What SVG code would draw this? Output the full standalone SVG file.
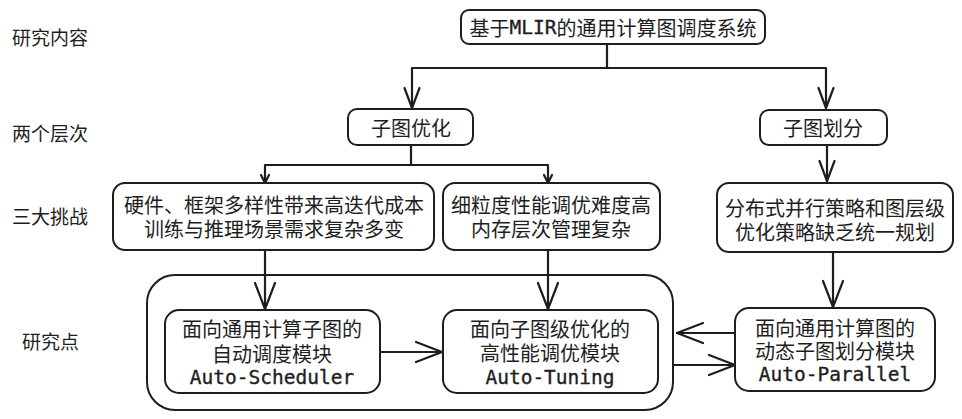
<svg xmlns="http://www.w3.org/2000/svg" width="962" height="419" viewBox="0 0 962 419">
<style>
.bg{fill:#ffffff}
.box{fill:#ffffff;stroke:#1e1e1e;stroke-width:2}
.frame{fill:none;stroke:#1e1e1e;stroke-width:2}
.t{font-family:"Noto Sans CJK SC","Noto Sans",sans-serif;font-size:20px;fill:#1e1e1e;text-anchor:middle;dominant-baseline:central}
.lbl{font-family:"Noto Sans CJK SC","Noto Sans",sans-serif;font-size:19px;fill:#1e1e1e;dominant-baseline:central}
.m{font-family:"DejaVu Sans Mono","Liberation Mono",monospace;font-size:19.5px;stroke:#1e1e1e;stroke-width:0.35}
.c{fill:none;stroke:#1e1e1e;stroke-width:2.2;stroke-linecap:round;stroke-linejoin:round}
.ah{fill:none;stroke:#1e1e1e;stroke-width:2.2;stroke-linecap:round;stroke-linejoin:round}
</style>
<defs>
<marker id="aL" markerUnits="userSpaceOnUse" viewBox="-2 -2 30 24" markerWidth="30" markerHeight="24" refX="26" refY="10" orient="auto" overflow="visible">
<path class="ah" d="M0,0 L26,10 L0,20"/>
</marker>
<marker id="aM" markerUnits="userSpaceOnUse" viewBox="-2 -2 24 19" markerWidth="24" markerHeight="19" refX="20" refY="7.5" orient="auto" overflow="visible">
<path class="ah" d="M0,0 L20,7.5 L0,15"/>
</marker>
<marker id="aS" markerUnits="userSpaceOnUse" viewBox="-2 -2 12 12" markerWidth="12" markerHeight="12" refX="8" refY="4" orient="auto" overflow="visible">
<path class="ah" d="M0,0 L8,4 L0,8"/>
</marker>
</defs>
<rect class="bg" x="0" y="0" width="962" height="419"/>

<g id="labels">
<text class="lbl" x="12" y="36">研究内容</text>
<text class="lbl" x="12" y="132">两个层次</text>
<text class="lbl" x="12" y="215">三大挑战</text>
<text class="lbl" x="22" y="340">研究点</text>
</g>

<g id="container">
<rect class="frame" x="147" y="275" width="526" height="135" rx="28"/>
</g>

<g id="connectors">
<path class="c" d="M607,44 V68 H412 V108" marker-end="url(#aM)"/>
<path class="c" d="M607,68 H826 V108" marker-end="url(#aM)"/>
<path class="c" d="M411,145 V165 H265 V183" marker-end="url(#aS)"/>
<path class="c" d="M411,165 H548 V183" marker-end="url(#aS)"/>
<path class="c" d="M827,145 V181" marker-end="url(#aM)"/>
<path class="c" d="M265,250 V309" marker-end="url(#aL)"/>
<path class="c" d="M548,250 V309" marker-end="url(#aL)"/>
<path class="c" d="M833,252 V307" marker-end="url(#aL)"/>
<path class="c" d="M380,352 H442" marker-end="url(#aL)"/>
<path class="c" d="M736,333 H677" marker-end="url(#aL)"/>
<path class="c" d="M673,365 H735" marker-end="url(#aL)"/>
</g>

<g id="root">
<rect class="box" x="461" y="10" width="304" height="34" rx="8"/>
<text class="t" x="613" y="27">基于<tspan class="m" font-size="20px">MLIR</tspan>的通用计算图调度系统</text>
</g>

<g id="subgraph-opt">
<rect class="box" x="348" y="109" width="125" height="36" rx="9"/>
<text class="t" x="411" y="127">子图优化</text>
</g>

<g id="subgraph-part">
<rect class="box" x="760" y="110" width="127" height="35" rx="9"/>
<text class="t" x="823" y="127">子图划分</text>
</g>

<g id="challenge1">
<rect class="box" x="113" y="183" width="321" height="67" rx="12"/>
<text class="t"><tspan x="274" y="204">硬件、框架多样性带来高迭代成本</tspan><tspan x="274" y="228">训练与推理场景需求复杂多变</tspan></text>
</g>

<g id="challenge2">
<rect class="box" x="443" y="183" width="217" height="67" rx="12"/>
<text class="t"><tspan x="551" y="204">细粒度性能调优难度高</tspan><tspan x="551" y="228">内存层次管理复杂</tspan></text>
</g>

<g id="challenge3">
<rect class="box" x="717" y="183" width="236" height="69" rx="12"/>
<text class="t"><tspan x="835" y="207">分布式并行策略和图层级</tspan><tspan x="835" y="231">优化策略缺乏统一规划</tspan></text>
</g>

<g id="auto-scheduler">
<rect class="box" x="165" y="310" width="215" height="83" rx="14"/>
<text class="t"><tspan x="272" y="328">面向通用计算子图的</tspan><tspan x="272" y="353">自动调度模块</tspan><tspan class="m" x="272" y="377">Auto-Scheduler</tspan></text>
</g>

<g id="auto-tuning">
<rect class="box" x="443" y="310" width="215" height="83" rx="14"/>
<text class="t"><tspan x="550" y="328">面向子图级优化的</tspan><tspan x="550" y="352">高性能调优模块</tspan><tspan class="m" x="550" y="377">Auto-Tuning</tspan></text>
</g>

<g id="auto-parallel">
<rect class="box" x="735" y="308" width="200" height="83" rx="14"/>
<text class="t"><tspan x="835" y="327">面向通用计算图的</tspan><tspan x="835" y="350">动态子图划分模块</tspan><tspan class="m" x="835" y="374">Auto-Parallel</tspan></text>
</g>
</svg>
